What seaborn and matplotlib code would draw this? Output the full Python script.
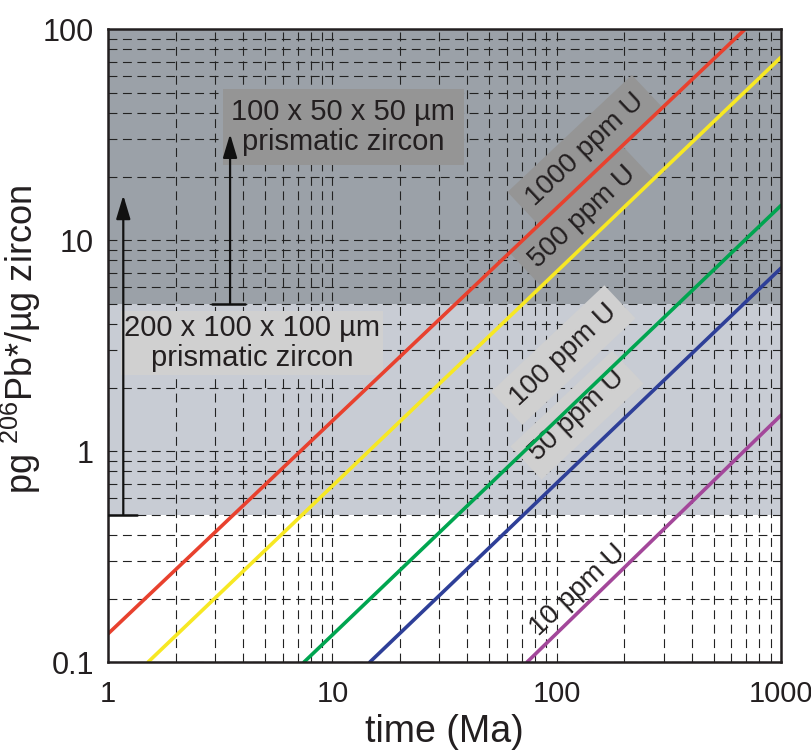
import numpy as np
import pandas as pd
import seaborn as sns
import matplotlib.pyplot as plt

sns.set_theme(style="white")
plt.rcParams['font.family'] = ['Liberation Sans', 'DejaVu Sans']
plt.rcParams['mathtext.default'] = 'regular'

# values: start and end of each line (time Ma, pg Pb/ug)
labels = ['1000 ppm U', '500 ppm U', '100 ppm U', '50 ppm U', '10 ppm U']
t_start = [1.0, 1.51, 7.48, 14.7, 73.8]
y_start = [0.136, 0.1, 0.1, 0.1, 0.1]
t_end = [692, 1000, 1000, 1000, 1000]
y_end = [100, 73.6, 14.6, 7.37, 1.48]
colors = ['#e8412e', '#f7e823', '#00a550', '#2e3f98', '#a3479a']

# label positions (data coords) and box colours
lab_x = [134, 130, 107, 123, 124.6]
lab_y = [26.7, 12.9, 2.85, 1.48, 0.219]
lab_fc = ['#959595', '#959595', '#d0d0d0', '#d0d0d0', 'none']

rows = []
for lab, t0, y0, t1, y1 in zip(labels, t_start, y_start, t_end, y_end):
    rows.append({'conc': lab, 'time': t0, 'pb': y0})
    rows.append({'conc': lab, 'time': t1, 'pb': y1})
df = pd.DataFrame(rows)

fig = plt.figure(figsize=(8.12, 7.5), dpi=100)
ax = fig.add_axes([0.133, 0.1173, 0.829, 0.844])

# shaded ranges
ax.axhspan(0.5, 5, color='#c8ccd4', zorder=0, lw=0)
ax.axhspan(5, 100, color='#9ba1a8', zorder=0, lw=0)

sns.lineplot(data=df, x='time', y='pb', hue='conc', palette=colors,
             hue_order=labels, lw=2.6, legend=False, ax=ax, zorder=2)

ax.set_xscale('log')
ax.set_yscale('log')
ax.set_xlim(1, 1000)
ax.set_ylim(0.1, 100)

ax.set_axisbelow(True)
ax.grid(which='both', axis='both', color='#222222', lw=0.8, ls=(0, (8, 5)))

ax.set_xticks([1, 10, 100, 1000])
ax.set_xticklabels(['1', '10', '100', '1000'], fontsize=21)
ax.set_yticks([0.1, 1, 10, 100])
ax.set_yticklabels(['0.1', '1', '10', '100'], fontsize=22)
ax.tick_params(axis='x', which='both', length=0, pad=13, colors='#231f20')
ax.tick_params(axis='y', which='both', length=0, pad=10, colors='#231f20')

for s in ax.spines.values():
    s.set_color('#231f20')
    s.set_linewidth(1.8)
    s.set_visible(True)

ax.set_xlabel('time (Ma)', fontsize=27, color='#231f20', labelpad=4)
ax.set_ylabel('pg $^{206}$Pb*/µg zircon', fontsize=26, color='#231f20')
ax.yaxis.set_label_coords(-0.096, 0.51)

# line labels along the lines
angle = np.degrees(np.arctan(0.844 * 7.5 / 3.0 / (0.829 * 8.12 / 3.0)))
for lab, x, y, fc in zip(labels, lab_x, lab_y, lab_fc):
    ax.text(x, y, lab, rotation=angle, ha='center', va='center', fontsize=20,
            color='#231f20', zorder=1.5, rotation_mode='anchor',
            bbox=dict(boxstyle='square,pad=0.35', fc=fc, ec='none'))

# grain size annotations
ax.text(11.2, 34.3, '100 x 50 x 50 µm\nprismatic zircon', ha='center', va='center',
        fontsize=21, color='#231f20', zorder=1.5, linespacing=1.1,
        bbox=dict(boxstyle='square,pad=0.3', fc='#959595', ec='none'))
ax.text(4.39, 3.25, '200 x 100 x 100 µm\nprismatic zircon', ha='center', va='center',
        fontsize=21, color='#231f20', zorder=1.5, linespacing=1.1,
        bbox=dict(boxstyle='square,pad=0.1', fc='#d0d0d0', ec='none'))

arrow = dict(arrowstyle='-|>,head_length=1.2,head_width=0.36', color='#111111',
             lw=1.6, shrinkA=0, shrinkB=0)
ax.annotate('', xy=(1.17, 16.3), xytext=(1.17, 0.5), arrowprops=arrow, zorder=3)
ax.plot([1.0, 1.35], [0.5, 0.5], color='#111111', lw=1.8, zorder=3)
ax.annotate('', xy=(3.5, 31.8), xytext=(3.5, 5), arrowprops=arrow, zorder=3)
ax.plot([2.9, 4.1], [5, 5], color='#111111', lw=1.8, zorder=3)

fig.savefig('out.png', dpi=100)
